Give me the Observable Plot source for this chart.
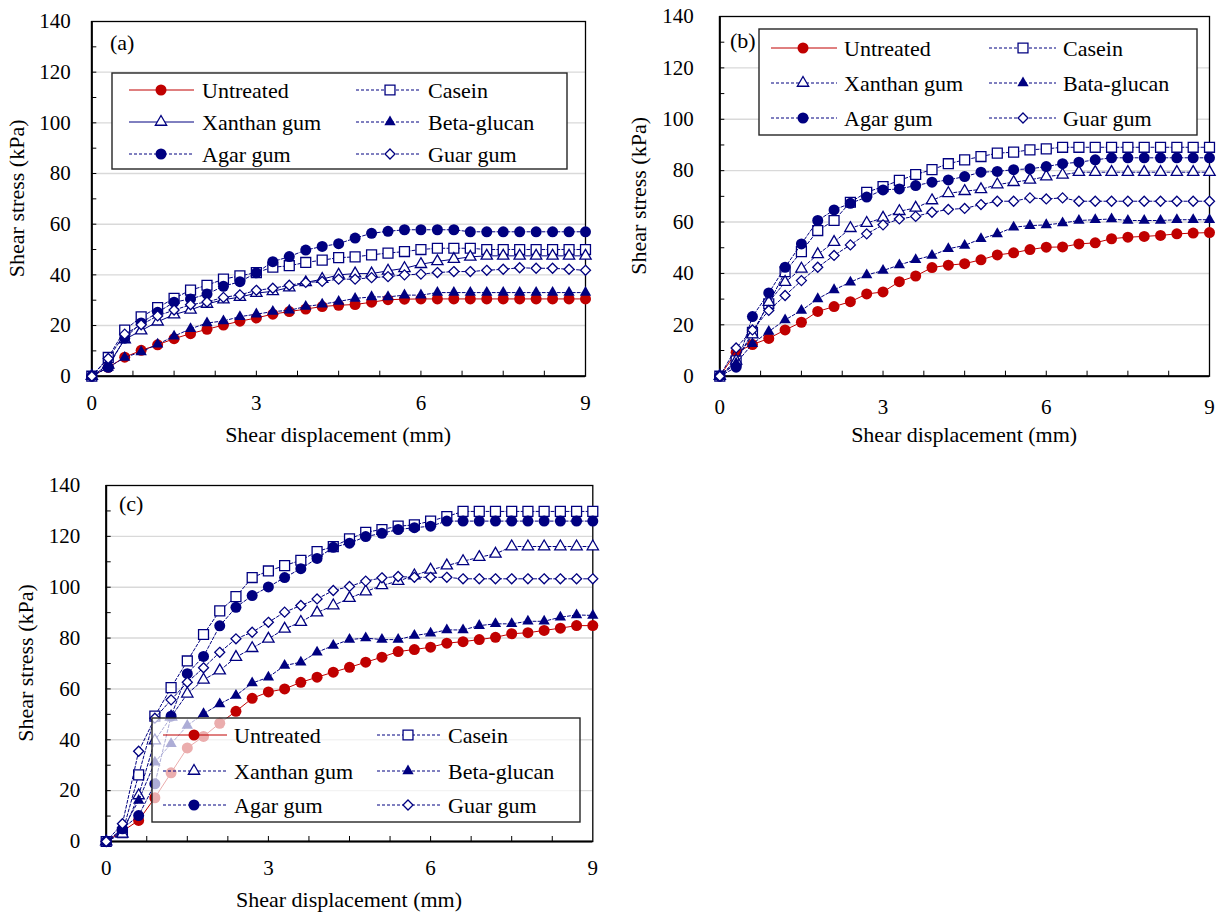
<!DOCTYPE html>
<html>
<head>
<meta charset="utf-8">
<script src="https://cdn.jsdelivr.net/npm/d3@7"></script>
<script src="https://cdn.jsdelivr.net/npm/@observablehq/plot@0.6"></script>
<style>
  html, body { margin: 0; padding: 0; background: #fff; }
  #chart { position: relative; width: 1220px; height: 918px; }
  #chart svg { position: absolute; overflow: visible; }
  #chart svg, #chart svg text { font-family: "Liberation Serif", "Times New Roman", serif !important; }
</style>
</head>
<body>
<div id="chart"></div>
<script>
// Shear displacement (mm) at each reading
const displacement = [0, 0.3, 0.6, 0.9, 1.2, 1.5, 1.8, 2.1, 2.4, 2.7, 3, 3.3, 3.6, 3.9, 4.2, 4.5,
  4.8, 5.1, 5.4, 5.7, 6, 6.3, 6.6, 6.9, 7.2, 7.5, 7.8, 8.1, 8.4, 8.7, 9];

const seriesNames = ["Untreated", "Casein", "Xanthan gum", "Beta-glucan", "Agar gum", "Guar gum"];
const seriesNamesB = ["Untreated", "Casein", "Xanthan gum", "Bata-glucan", "Agar gum", "Guar gum"];

// Axis ticks
const xTicks = [0, 3, 6, 9];
const xMinorTicks = [0.75, 1.5, 2.25, 3, 3.75, 4.5, 5.25, 6, 6.75, 7.5, 8.25];
const yTicks = [0, 20, 40, 60, 80, 100, 120, 140];
const yMinorTicks = [10, 20, 30, 40, 50, 60, 70, 80, 90, 100, 110, 120, 130];
const yGrid = [20, 40, 60, 80, 100, 120];

// Panel (a) shear stress (kPa)
const untreatedA = [0, 3.5, 7.5, 10.2, 12.4, 14.8, 16.8, 18.5, 20.2, 21.7, 23, 24.5, 25.5, 26.5, 27.5, 28, 28.3, 29.2, 30.2, 30.4, 30.5, 30.5, 30.5, 30.5, 30.5, 30.5, 30.5, 30.5, 30.5, 30.5, 30.5];
const caseinA = [0, 7.4, 18.2, 23.4, 27.1, 30.7, 34, 35.9, 38.3, 39.6, 40.9, 43, 43.6, 44.9, 45.8, 46.8, 47.1, 47.9, 48.6, 49.2, 50, 50.5, 50.5, 50.5, 50, 50, 50, 50, 50, 50, 50];
const xanthanA = [0, 4.5, 14.5, 18, 21.5, 24.3, 26.2, 28.5, 30.2, 31.2, 32.8, 33.5, 35, 37, 38.3, 40, 40.5, 40.5, 41.6, 42.6, 44.2, 45.3, 46.2, 47.1, 47.5, 47.5, 47.5, 47.5, 47.5, 47.5, 47.5];
const betaA = [0, 3.4, 7.4, 9.6, 12.6, 15.8, 18.7, 21, 21.8, 23.5, 24.5, 25.5, 26, 27.5, 28.4, 29.5, 30.7, 31.3, 31.3, 32, 32, 33, 33, 33, 33, 33, 33, 33, 33, 33, 33];
const agarA = [0, 3.5, 15, 21, 25.2, 29.2, 30.5, 32.4, 35.5, 37.3, 40.8, 45.2, 47.2, 49.8, 51.2, 52.3, 54.5, 56.4, 57.2, 57.8, 57.8, 57.8, 57.8, 57, 57, 57, 57, 57, 57, 57, 57];
const guarA = [0, 7, 16.6, 20.3, 23.8, 26.1, 28.2, 29.3, 31.1, 32.1, 33.9, 34.7, 35.9, 37, 37.4, 38.3, 38.3, 38.9, 39.3, 40, 40.3, 40.9, 41.3, 41.3, 41.8, 42.2, 42.8, 42.6, 42.6, 42.2, 41.8];

// Panel (b) shear stress (kPa)
const untreatedB = [0, 9.3, 12.3, 14.7, 18, 21, 25.2, 27.1, 29, 32, 32.8, 36.8, 39, 42.3, 43.2, 43.8, 45.3, 47.2, 48, 49.3, 50.2, 50.3, 51.5, 51.9, 53.5, 54.1, 54.4, 54.8, 55.4, 55.7, 55.9];
const caseinB = [0, 6, 17.1, 28.2, 40.7, 48.5, 56.7, 60.6, 67.7, 71.6, 73.8, 76.2, 78.5, 80.4, 82.7, 84.2, 85.5, 86.8, 87.2, 88.1, 88.5, 89.1, 89.1, 89.1, 89.1, 89.1, 89.1, 89.1, 89.1, 89.1, 89.1];
const xanthanB = [0, 6, 16.2, 28.8, 36.6, 41.8, 47.4, 52.2, 57.6, 59.6, 61.6, 64.2, 65.5, 68.4, 71.2, 72, 72.7, 74.6, 75.5, 76.4, 77.7, 78.4, 79.4, 79.4, 79.4, 79.4, 79.4, 79.4, 79.4, 79.4, 79.4];
const betaB = [0, 5, 12.6, 17.4, 21.9, 25.6, 30.1, 33.6, 36.6, 39.4, 41.1, 43.3, 45.3, 47, 49.6, 50.9, 53.5, 55.4, 58, 58.6, 58.9, 59.6, 60.6, 60.9, 61.2, 60.6, 60.6, 60.6, 60.9, 60.9, 60.9];
const agarB = [0, 3.5, 23.2, 32.4, 42.4, 51.5, 60.6, 64.7, 67.3, 69.7, 72.5, 72.9, 74.2, 75.5, 76.4, 77.7, 79.4, 79.7, 80.4, 80.7, 81.6, 82.7, 83.3, 84.2, 85, 85, 85, 85, 85, 85, 85];
const guarB = [0, 11, 18, 25.6, 31.4, 37.2, 42.4, 47, 51.1, 55.4, 58.9, 61.2, 62.2, 63.8, 64.9, 65.3, 66.8, 68.1, 68.1, 69.4, 69, 69.4, 68.1, 68.1, 68.1, 68.1, 68.1, 68.1, 68.1, 68.1, 68.1];

// Panel (c) shear stress (kPa)
const untreatedC = [0, 4, 8.3, 17.2, 27, 36.8, 41.3, 46.5, 51.2, 56.3, 58.8, 60, 62.6, 64.6, 66.6, 68.5, 70.5, 72.5, 74.7, 75.5, 76.4, 78, 78.6, 79.4, 80.3, 81.7, 82.1, 83, 83.9, 84.9, 84.9];
const caseinC = [0, 3.5, 26.2, 49.3, 60.5, 71, 81.4, 90.7, 96.3, 103.8, 106.4, 108.5, 110.6, 114, 116, 119, 121.6, 122.7, 124, 124.5, 126, 127.8, 129.8, 129.8, 129.8, 129.8, 129.8, 129.8, 129.8, 129.8, 129.8];
const xanthanC = [0, 3, 18.1, 39.7, 49, 58.1, 63.6, 67.2, 72.5, 76, 79.7, 83.6, 86.3, 90, 92.8, 95.7, 98.3, 100.7, 102.4, 104.6, 106.8, 108.5, 110.2, 111.8, 113.1, 116, 116, 116, 116, 116, 116];
const betaC = [0, 4.5, 16.1, 31.2, 38.4, 45.6, 50.2, 54.1, 57.4, 62.3, 64.6, 69.2, 70.5, 74.4, 77.1, 79.4, 80, 79.4, 79.4, 81, 81.9, 83.2, 83.2, 84.9, 85.6, 85.6, 86.6, 86.6, 88.2, 89.1, 88.9];
const agarC = [0, 5, 10.2, 22.7, 49.3, 66, 72.8, 84.8, 92.1, 96.7, 100.1, 103.8, 107.3, 111.3, 115.7, 117.3, 119.9, 121.2, 122.7, 123.4, 124, 126, 126, 126, 126, 126, 126, 126, 126, 126, 126];
const guarC = [0, 7, 35.5, 48.5, 55.7, 62.6, 68.3, 74.4, 79.7, 82.3, 86.2, 90.2, 92.8, 95.4, 98.7, 100.3, 102.4, 103.7, 104.2, 103.9, 103.9, 103.9, 103.3, 103.3, 103.3, 103.3, 103.3, 103.3, 103.3, 103.3, 103.3];

// Marker and line styling per series
const RED = "#c00000", NAVY = "#000080";
const styles = [
  {symbol: "circle",   d3sym: d3.symbolCircle,   r: 5.5, color: RED,  open: false, dashed: false},
  {symbol: "square",   d3sym: d3.symbolSquare,   r: 5.6, color: NAVY, open: true,  dashed: true},
  {symbol: "triangle", d3sym: d3.symbolTriangle, r: 4.2, color: NAVY, open: true,  dashed: true},
  {symbol: "triangle", d3sym: d3.symbolTriangle, r: 4.2, color: NAVY, open: false, dashed: true},
  {symbol: "circle",   d3sym: d3.symbolCircle,   r: 5.5, color: NAVY, open: false, dashed: true},
  {symbol: "diamond2", d3sym: d3.symbolDiamond2, r: 4.5, color: NAVY, open: true,  dashed: true}
];
const DASH = "3,2";
const FONT = "Liberation Serif";

const panels = [
  {
    tag: "(a)", names: seriesNames, series: [untreatedA, caseinA, xanthanA, betaA, agarA, guarA],
    solidXanthan: true,
    left: 0, top: 0, width: 610, height: 460,
    margin: {left: 91.3, right: 25, top: 21, bottom: 84.3},
    yPad: 21, xPad: 19,
    yLabelX: 23.5, xLabelY: 442, tagX: 110, tagY: 50,
    legend: {x0: 112, x1: 567, y0: 73, y1: 169, rows: [90, 122, 154],
             cols: [{l0: 129, l1: 194, m: 161, t: 202}, {l0: 356, l1: 421, m: 390, t: 428}], opacity: 1}
  },
  {
    tag: "(b)", names: seriesNamesB, series: [untreatedB, caseinB, xanthanB, betaB, agarB, guarB],
    solidXanthan: false,
    left: 610, top: 0, width: 610, height: 460,
    margin: {left: 109.3, right: 11, top: 16, bottom: 84.3},
    yPad: 26, xPad: 23,
    yLabelX: 35.5, xLabelY: 442, tagX: 120, tagY: 48,
    legend: {x0: 149, x1: 587, y0: 29, y1: 135, rows: [48, 83, 118],
             cols: [{l0: 161, l1: 227, m: 193, t: 234}, {l0: 379, l1: 446, m: 413, t: 453}], opacity: 1}
  },
  {
    tag: "(c)", names: seriesNames, series: [untreatedC, caseinC, xanthanC, betaC, agarC, guarC],
    solidXanthan: false,
    left: 0, top: 460, width: 610, height: 458,
    margin: {left: 105.7, right: 17.7, top: 25, bottom: 77},
    yPad: 26, xPad: 19,
    yLabelX: 33, xLabelY: 447, tagX: 119, tagY: 51,
    legend: {x0: 152, x1: 580, y0: 258, y1: 362, rows: [275, 311, 345],
             cols: [{l0: 163, l1: 227, m: 194, t: 234}, {l0: 377, l1: 441, m: 408, t: 448}], opacity: 0.68}
  }
];

const chart = d3.select("#chart");

for (const p of panels) {
  const marks = [
    Plot.gridY(yGrid, {stroke: "#d9d9d9", strokeOpacity: 1, strokeWidth: 1.4}),
    Plot.frame({stroke: "#000", strokeWidth: 1.3}),
    Plot.axisY(yMinorTicks, {tickSize: -5, tickFormat: () => "", label: null, stroke: "#000"}),
    Plot.axisY(yTicks, {tickSize: 0, tickPadding: p.yPad, label: null, fill: "#000"}),
    Plot.axisX(xMinorTicks, {tickSize: -5, tickFormat: () => "", label: null, stroke: "#000"}),
    Plot.axisX(xTicks, {tickSize: 0, tickPadding: p.xPad, label: null, fill: "#000"}),
    Plot.ruleX([0], {stroke: "#000", strokeWidth: 2}),
    Plot.ruleY([0], {stroke: "#000", strokeWidth: 2})
  ];
  p.series.forEach((vals, k) => {
    const st = styles[k];
    const dashed = k === 2 && p.solidXanthan ? false : st.dashed;
    const rows = vals.map((v, i) => ({x: displacement[i], y: v}));
    marks.push(Plot.line(rows, {x: "x", y: "y", stroke: st.color, strokeWidth: 1, strokeDasharray: dashed ? DASH : null}));
    marks.push(Plot.dot(rows, {
      x: "x", y: "y", symbol: st.symbol, r: st.r,
      fill: st.open ? "#fff" : st.color,
      stroke: st.open ? st.color : "none", strokeWidth: 1.3
    }));
  });

  const svgNode = Plot.plot({
    width: p.width, height: p.height,
    marginLeft: p.margin.left, marginRight: p.margin.right,
    marginTop: p.margin.top, marginBottom: p.margin.bottom,
    x: {domain: [0, 9]},
    y: {domain: [0, 140]},
    style: {fontFamily: FONT, fontSize: "21px", color: "#000", background: "transparent", overflow: "visible"},
    marks
  });
  svgNode.style.left = p.left + "px";
  svgNode.style.top = p.top + "px";
  chart.node().appendChild(svgNode);

  const svg = d3.select(svgNode);
  const fx0 = p.margin.left, fx1 = p.width - p.margin.right;
  const fy0 = p.margin.top, fy1 = p.height - p.margin.bottom;

  // Axis titles and panel tag
  svg.append("text")
    .attr("x", (fx0 + fx1) / 2).attr("y", p.xLabelY)
    .attr("text-anchor", "middle").attr("font-size", 22).attr("fill", "#000")
    .text("Shear displacement (mm)");
  svg.append("text")
    .attr("transform", `translate(${p.yLabelX},${(fy0 + fy1) / 2}) rotate(-90)`)
    .attr("text-anchor", "middle").attr("font-size", 22).attr("fill", "#000")
    .text("Shear stress (kPa)");
  svg.append("text")
    .attr("x", p.tagX).attr("y", p.tagY)
    .attr("text-anchor", "start").attr("font-size", 22).attr("fill", "#000")
    .text(p.tag);

  // Legend: three rows by two columns
  const L = p.legend;
  const g = svg.append("g").attr("text-anchor", "start");
  g.append("rect")
    .attr("x", L.x0).attr("y", L.y0).attr("width", L.x1 - L.x0).attr("height", L.y1 - L.y0)
    .attr("fill", "#fff").attr("fill-opacity", L.opacity)
    .attr("stroke", "#262626").attr("stroke-width", 1.4);
  p.names.forEach((name, k) => {
    const st = styles[k];
    const dashed = k === 2 && p.solidXanthan ? false : st.dashed;
    const c = L.cols[k % 2], y = L.rows[Math.floor(k / 2)];
    g.append("line")
      .attr("x1", c.l0).attr("x2", c.l1).attr("y1", y).attr("y2", y)
      .attr("stroke", st.color).attr("stroke-width", 1)
      .attr("stroke-dasharray", dashed ? DASH : null);
    g.append("path")
      .attr("transform", `translate(${c.m},${y})`)
      .attr("d", d3.symbol(st.d3sym, Math.PI * st.r * st.r)())
      .attr("fill", st.open ? "#fff" : st.color)
      .attr("stroke", st.open ? st.color : "none").attr("stroke-width", 1.3);
    g.append("text")
      .attr("x", c.t).attr("y", y).attr("dy", "0.35em")
      .attr("text-anchor", "start").attr("font-size", 22).attr("fill", "#000")
      .text(name);
  });
}
</script>
</body>
</html>
